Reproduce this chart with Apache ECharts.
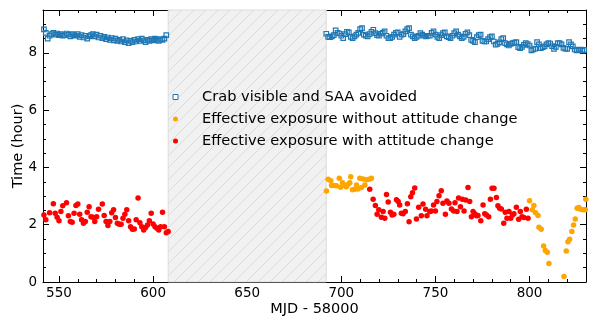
<!DOCTYPE html>
<html>
<head>
<meta charset="utf-8">
<script src="https://cdn.jsdelivr.net/npm/echarts@6/dist/echarts.min.js"></script>
<style>
  html, body { margin: 0; padding: 0; background: #fff; }
  #main { width: 590px; height: 317px; }
</style>
</head>
<body>
<div id="main"></div>
<script>
// Crab visible and SAA avoided (daily), two stretches
const blueLeftStart = 542;
const blueLeft = [
  8.82, 8.70, 8.50, 8.60, 8.66, 8.70, 8.64, 8.68, 8.62, 8.66,
  8.60, 8.62, 8.68, 8.64, 8.58, 8.66, 8.62, 8.60, 8.66, 8.56,
  8.62, 8.54, 8.60, 8.50, 8.58, 8.62, 8.66, 8.58, 8.64, 8.54,
  8.60, 8.52, 8.56, 8.48, 8.54, 8.46, 8.52, 8.44, 8.50, 8.42,
  8.46, 8.40, 8.48, 8.38, 8.44, 8.34, 8.42, 8.38, 8.46, 8.40,
  8.48, 8.42, 8.50, 8.44, 8.38, 8.46, 8.42, 8.48, 8.44, 8.50,
  8.46, 8.42, 8.48, 8.46, 8.50, 8.62
];
const blueRightStart = 692;
const blueRight = [
  8.67, 8.56, 8.55, 8.58, 8.62, 8.79, 8.70, 8.68, 8.60, 8.52,
  8.66, 8.74, 8.72, 8.56, 8.52, 8.58, 8.64, 8.70, 8.83, 8.87,
  8.64, 8.60, 8.58, 8.66, 8.74, 8.81, 8.69, 8.62, 8.60, 8.67,
  8.70, 8.75, 8.60, 8.52, 8.52, 8.56, 8.64, 8.70, 8.72, 8.56,
  8.64, 8.66, 8.75, 8.83, 8.87, 8.64, 8.58, 8.52, 8.56, 8.60,
  8.69, 8.64, 8.60, 8.58, 8.60, 8.60, 8.70, 8.75, 8.64, 8.56,
  8.52, 8.62, 8.69, 8.72, 8.58, 8.55, 8.52, 8.60, 8.69, 8.75,
  8.64, 8.58, 8.52, 8.56, 8.67, 8.72, 8.62, 8.46, 8.42, 8.38,
  8.55, 8.62, 8.64, 8.42, 8.40, 8.40, 8.48, 8.55, 8.58, 8.40,
  8.29, 8.32, 8.37, 8.48, 8.52, 8.34, 8.30, 8.26, 8.32, 8.34,
  8.36, 8.38, 8.20, 8.17, 8.21, 8.28, 8.34, 8.31, 8.26, 8.09,
  8.12, 8.15, 8.38, 8.30, 8.17, 8.20, 8.23, 8.30, 8.34, 8.33,
  8.24, 8.14, 8.21, 8.34, 8.34, 8.30, 8.18, 8.15, 8.14, 8.38,
  8.30, 8.23, 8.12, 8.09, 8.11, 8.12, 8.08, 8.11
];

// Effective exposure without attitude change (orange)
const orangeX1 = [692.1, 693.0, 694.4, 694.8, 696.2, 697.4, 698.9, 699.6, 700.6, 701.9,
  702.7, 703.6, 704.5, 705.0, 705.9, 707.2, 708.1, 708.9, 709.8, 710.7,
  711.6, 712.5, 713.4, 714.8, 716.0];
const orangeY1 = [3.18, 3.59, 3.54, 3.37, 3.37, 3.36, 3.62, 3.31, 3.47, 3.37,
  3.33, 3.41, 3.47, 3.68, 3.22, 3.24, 3.39, 3.25, 3.62, 3.30,
  3.60, 3.39, 3.57, 3.59, 3.62];
const orangeX2 = [800.0, 801.5, 802.3, 803.2, 804.5, 805.0, 806.2, 807.5, 808.4, 809.4,
  810.3, 818.3, 819.5, 820.4, 821.3, 822.5, 823.4, 824.3, 825.3, 826.2,
  827.1, 828.3, 829.6, 829.9];
const orangeY2 = [2.84, 2.52, 2.67, 2.42, 2.32, 1.91, 1.84, 1.26, 1.10, 1.04,
  0.65, 0.19, 1.08, 1.41, 1.49, 1.76, 1.99, 2.20, 2.58, 2.60,
  2.54, 2.52, 2.52, 2.89];

// Effective exposure with attitude change (red)
const redX1 = [542, 543, 545, 547, 548, 549, 550, 551, 552,
  554, 555, 556, 557, 558, 559, 560, 561, 562, 563, 564, 565, 566, 567, 568, 569, 570, 571,
  573, 574, 575, 576, 577, 578, 579, 580, 581, 582, 583, 584, 585, 586, 587, 588, 589, 590,
  591, 592, 593, 594, 595, 596, 597, 598, 599, 600, 601, 602, 603, 604, 605, 606, 607, 608];
const redY1 = [2.34, 2.17, 2.42, 2.73, 2.40, 2.26, 2.14, 2.46, 2.66,
  2.77, 2.31, 2.11, 2.09, 2.40, 2.67, 2.72, 2.37, 2.17, 2.05, 2.11, 2.44, 2.63, 2.28, 2.26, 2.11, 2.28, 2.54,
  2.72, 2.32, 2.11, 1.97, 2.11, 2.42, 2.52, 2.25, 2.05, 2.02, 2.02, 2.23, 2.37, 2.52, 2.14, 1.93, 1.84, 1.85,
  2.17, 2.93, 2.07, 1.93, 1.82, 1.90, 1.99, 2.14, 2.40, 2.03, 1.93, 1.88, 1.82, 1.93, 2.44, 1.93, 1.72, 1.76];
const redX2 = [715.1, 716.9, 718.1, 719.0, 719.9, 721.3, 722.2, 723.1, 724.0, 724.9,
  726.1, 727.0, 727.9, 729.3, 730.2, 731.0, 731.9, 732.8, 734.0, 735.1,
  736.0, 736.9, 737.8, 739.0, 739.9, 741.1, 742.5, 743.4, 744.8, 745.5,
  747.0, 747.8, 749.0, 750.0, 750.8, 751.9, 753.1, 754.0, 755.3, 756.1,
  757.2, 758.5, 759.7, 760.4, 761.5, 762.3, 763.3, 764.3, 765.2, 766.1,
  767.3, 768.2, 769.1, 770.0, 770.9, 771.8, 772.6, 774.1, 775.3, 776.2,
  777.1, 778.3, 779.2, 780.1, 781.1, 782.4, 783.2, 784.1, 785.0, 786.3,
  787.1, 788.0, 789.1, 790.0, 790.9, 791.7, 793.0, 794.2, 795.1, 796.0,
  797.0, 798.3, 799.2];
const redY2 = [3.24, 2.89, 2.67, 2.37, 2.52, 2.26, 2.46, 2.23, 3.06, 2.79,
  2.44, 2.34, 2.37, 2.87, 2.81, 2.69, 2.40, 2.38, 2.46, 2.73,
  2.10, 2.98, 3.12, 3.28, 2.20, 2.61, 2.31, 2.72, 2.54, 2.31,
  2.46, 2.48, 2.69, 2.48, 2.81, 3.01, 3.19, 2.75, 2.37, 2.83,
  2.75, 2.55, 2.48, 2.77, 2.46, 2.93, 2.63, 2.89, 2.48, 2.86,
  3.30, 2.81, 2.28, 2.46, 2.38, 2.31, 2.32, 2.14, 2.69, 2.38,
  2.34, 2.28, 2.89, 3.27, 3.27, 2.95, 2.66, 2.58, 2.55, 2.05,
  2.44, 2.23, 2.46, 2.23, 2.34, 2.38, 2.61, 2.19, 2.46, 2.28,
  2.25, 2.54, 2.23];

// gap with no observations (hatched)
const gapRange = [608, 692];

const seriesNames = [
  'Crab visible and SAA avoided',
  'Effective exposure without attitude change',
  'Effective exposure with attitude change'
];

const font = 'DejaVu Sans';

function daily(start, vals) {
  return vals.map((v, i) => [start + i, v]);
}
function zip(xs, ys) {
  return xs.map((x, i) => [x, ys[i]]);
}

function hatch() {
  const c = document.createElement('canvas');
  c.width = 12; c.height = 12;
  const g = c.getContext('2d');
  g.fillStyle = '#f1f1f1';
  g.fillRect(0, 0, 12, 12);
  g.strokeStyle = '#dcdcdc';
  g.lineWidth = 1;
  g.beginPath();
  g.moveTo(0, 12); g.lineTo(12, 0);
  g.moveTo(-6, 6); g.lineTo(6, -6);
  g.moveTo(6, 18); g.lineTo(18, 6);
  g.stroke();
  return c;
}

const black = '#000';
function xAx(pos) {
  return {
    type: 'value', position: pos, min: 541.5, max: 830,
    axisLine: { show: true, onZero: false, lineStyle: { color: black, width: 1 } },
    axisTick: { show: true, inside: true, length: 6, lineStyle: { color: black } },
    minorTick: { show: true, splitNumber: 5, length: 3, lineStyle: { color: black } },
    splitLine: { show: false },
    axisLabel: {
      show: pos === 'bottom', color: black, fontSize: 13.5, fontFamily: font, margin: 4,
      showMinLabel: false, showMaxLabel: false
    },
    name: pos === 'bottom' ? 'MJD - 58000' : '',
    nameLocation: 'middle', nameGap: 20, nameMoveOverlap: false,
    nameTextStyle: { color: black, fontSize: 14.5, fontFamily: font }
  };
}
function yAx(pos) {
  return {
    type: 'value', position: pos, min: 0, max: 9.5, interval: 2,
    axisLine: { show: true, onZero: false, lineStyle: { color: black, width: 1 } },
    axisTick: { show: true, inside: true, length: 6, lineStyle: { color: black } },
    minorTick: { show: true, splitNumber: 4, length: 3, lineStyle: { color: black } },
    splitLine: { show: false },
    axisLabel: {
      show: pos === 'left', color: black, fontSize: 13.5, fontFamily: font, margin: 6,
      showMaxLabel: false
    },
    name: pos === 'left' ? 'Time (hour)' : '',
    nameLocation: 'middle', nameGap: 17, nameMoveOverlap: false,
    nameTextStyle: { color: black, fontSize: 14.5, fontFamily: font }
  };
}

let options = {
  animation: false,
  backgroundColor: '#fff',
  grid: { left: 43, right: 4, top: 10, bottom: 35, containLabel: false, outerBoundsMode: 'none' },
  xAxis: [xAx('bottom'), xAx('top')],
  yAxis: [yAx('left'), yAx('right')],
  legend: {
    orient: 'vertical', left: 172.5, top: 89.5, padding: 0, itemGap: 7,
    itemWidth: 5, itemHeight: 5,
    textStyle: { color: black, fontSize: 14.6, fontFamily: font, padding: [0, 0, 0, 19] },
    data: [
      { name: seriesNames[0], icon: 'rect',
        itemStyle: { color: '#ffffff', borderColor: '#1f77b4', borderWidth: 1 } },
      { name: seriesNames[1], icon: 'circle', itemStyle: { color: '#ffa500', borderWidth: 0 } },
      { name: seriesNames[2], icon: 'circle', itemStyle: { color: '#ff0000', borderWidth: 0 } }
    ]
  },
  series: [
    {
      name: seriesNames[0], type: 'scatter', symbol: 'rect', symbolSize: 4.5,
      itemStyle: { color: 'rgba(0,0,0,0)', borderColor: '#1f77b4', borderWidth: 1.2, opacity: 1 },
      data: daily(blueLeftStart, blueLeft).concat(daily(blueRightStart, blueRight)),
      markArea: {
        silent: true,
        itemStyle: { color: { image: hatch(), repeat: 'repeat' }, borderColor: '#d6d6d6', borderWidth: 0.8 },
        data: [[{ xAxis: gapRange[0] }, { xAxis: gapRange[1] }]]
      }
    },
    {
      name: seriesNames[1], type: 'scatter', symbol: 'circle', symbolSize: 5.5,
      itemStyle: { color: '#ffa500', opacity: 1 },
      data: zip(orangeX1, orangeY1).concat(zip(orangeX2, orangeY2))
    },
    {
      name: seriesNames[2], type: 'scatter', symbol: 'circle', symbolSize: 5.5,
      itemStyle: { color: '#ff0000', opacity: 1 },
      data: zip(redX1, redY1).concat(zip(redX2, redY2))
    }
  ]
};

let myChart = echarts.init(document.getElementById('main'));
myChart.setOption(options);
</script>
</body>
</html>
